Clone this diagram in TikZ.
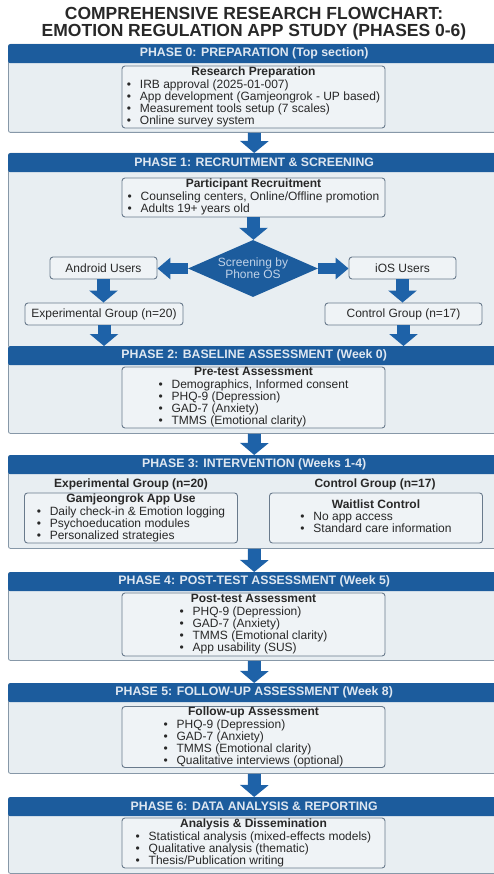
\documentclass[tikz,border=0pt]{standalone}
\usepackage{fontspec}
\setmainfont{Liberation Sans}
\usetikzlibrary{arrows.meta}
\usetikzlibrary{shapes.geometric}
\definecolor{hdrblue}{RGB}{28,92,157}
\definecolor{arrowblue}{RGB}{30,98,168}
\definecolor{hdrtext}{RGB}{222,231,241}
\definecolor{panelbg}{RGB}{232,238,242}
\definecolor{panelline}{RGB}{135,152,168}
\definecolor{boxbg}{RGB}{239,243,246}
\definecolor{boxline}{RGB}{105,122,140}
\definecolor{ink}{RGB}{40,40,40}
\definecolor{dtext}{RGB}{192,210,232}
\newcommand{\bul}{\makebox[13pt][l]{\textbullet}}
\newcommand{\boxhead}[1]{\multicolumn{1}{@{}c@{}}{\textbf{#1}}\\[1pt]}

\begin{document}
\begin{tikzpicture}[x=1pt,y=-1pt,
	panel/.style={draw=panelline, fill=panelbg, line width=0.8pt, rounded corners=2pt, anchor=north west, minimum width=492pt, inner sep=0pt},
	bar/.style={fill=hdrblue, text=hdrtext, rounded corners=2pt, anchor=north west, minimum width=492pt, minimum height=19pt, inner sep=0pt, font=\fontsize{12.3}{12}\selectfont\bfseries},
	infobox/.style={draw=boxline, fill=boxbg, line width=0.9pt, rounded corners=3pt, align=center, inner sep=0pt, text=ink, font=\fontsize{12}{11}\selectfont},
	userbox/.style={infobox, minimum height=22pt},
	fatdown/.style={draw=arrowblue, line width=13pt, -{Triangle[width=28pt,length=12pt]}},
	fatside/.style={draw=arrowblue, line width=11pt, -{Triangle[width=21pt,length=13pt]}}]
	\useasboundingbox (0,0) rectangle (494,874);
	\clip (0,0) rectangle (494,874);
	\node[font=\fontsize{17.5}{17}\selectfont\bfseries, align=center, text=ink] (T) at (254,23.5) {COMPREHENSIVE RESEARCH FLOWCHART:\\EMOTION REGULATION APP STUDY (PHASES 0-6)};

	\node[panel, minimum height=88pt] (P0) at (8,44) {};
	\node[bar] (H0) at (8,44) {PHASE 0: PREPARATION (Top section)};
	\node[infobox, minimum width=263pt, minimum height=62pt] (B0) at (253.5,97) {\begin{tabular}{@{}l@{}}\boxhead{Research Preparation}
		\bul IRB approval (2025-01-007)\\ \bul App development (Gamjeongrok - UP based)\\ \bul Measurement tools setup (7 scales)\\ \bul Online survey system\end{tabular}};

	\node[panel, minimum height=194pt] (P1) at (8,153) {};
	\node[bar] (H1) at (8,153) {PHASE 1: RECRUITMENT \& SCREENING};
	\node[infobox, minimum width=263pt, minimum height=39pt] (B1) at (253.5,197.5) {\begin{tabular}{@{}l@{}}\boxhead{Participant Recruitment}
		\bul Counseling centers, Online/Offline promotion\\ \bul Adults 19+ years old\end{tabular}};
	\node[diamond, aspect=2.3, fill=hdrblue, text=dtext, minimum width=130pt, minimum height=57pt, inner sep=0pt, align=center, font=\fontsize{12}{11}\selectfont] (D) at (253,268.5) {Screening by\\Phone OS};
	\node[userbox, minimum width=107pt] (A) at (103.5,268) {Android Users};
	\node[userbox, minimum width=107pt] (I) at (402.5,268) {iOS Users};
	\node[userbox, minimum width=158pt] (E) at (104,314) {Experimental Group (n=20)};
	\node[userbox, minimum width=157pt] (C) at (403.5,314) {Control Group (n=17)};
	\draw[fatdown] (B1.south) -- (B1.south |- D.north);
	\draw[fatside] (D.west) -- (D.west -| A.east);
	\draw[fatside] (D.east) -- (D.east -| I.west);
	\draw[fatdown] (A.south) -- (A.south |- E.north);
	\draw[fatdown] (I.south) -- (I.south |- C.north);

	\node[panel, minimum height=87pt] (P2) at (8,346) {};
	\node[bar] (H2) at (8,346) {PHASE 2: BASELINE ASSESSMENT (Week 0)};
	\draw[fatdown] (E.south) -- (E.south |- H2.north);
	\draw[fatdown] (C.south) -- (C.south |- H2.north);
	\node[infobox, minimum width=263pt, minimum height=61pt] (B2) at (253.5,397.5) {\begin{tabular}{@{}l@{}}\boxhead{Pre-test Assessment}
		\bul Demographics, Informed consent\\ \bul PHQ-9 (Depression)\\ \bul GAD-7 (Anxiety)\\ \bul TMMS (Emotional clarity)\end{tabular}};

	\node[panel, minimum height=93pt] (P3) at (8,455) {};
	\node[bar] (H3) at (8,455) {PHASE 3: INTERVENTION (Weeks 1-4)};
	\draw[fatdown] (P2.south) -- (H3.north);
	\node[font=\fontsize{12}{12}\selectfont\bfseries, text=ink] (GE) at (131,484) {Experimental Group (n=20)};
	\node[font=\fontsize{12}{12}\selectfont\bfseries, text=ink] (GC) at (375,484) {Control Group (n=17)};
	\node[infobox, minimum width=213pt, minimum height=50pt] (B3a) at (131,518) {\begin{tabular}{@{}l@{}}\boxhead{Gamjeongrok App Use}
		\bul Daily check-in \& Emotion logging\\ \bul Psychoeducation modules\\ \bul Personalized strategies\end{tabular}};
	\node[infobox, minimum width=213pt, minimum height=50pt] (B3b) at (376,518) {\begin{tabular}{@{}l@{}}\boxhead{Waitlist Control}
		\bul No app access\\ \bul Standard care information\end{tabular}};

	\node[panel, minimum height=88pt] (P4) at (8,572) {};
	\node[bar] (H4) at (8,572) {PHASE 4: POST-TEST ASSESSMENT (Week 5)};
	\draw[fatdown] (P3.south) -- (H4.north);
	\node[infobox, minimum width=263pt, minimum height=63pt] (B4) at (253.5,624.5) {\begin{tabular}{@{}l@{}}\boxhead{Post-test Assessment}
		\bul PHQ-9 (Depression)\\ \bul GAD-7 (Anxiety)\\ \bul TMMS (Emotional clarity)\\ \bul App usability (SUS)\end{tabular}};

	\node[panel, minimum height=90pt] (P5) at (8,683) {};
	\node[bar] (H5) at (8,683) {PHASE 5: FOLLOW-UP ASSESSMENT (Week 8)};
	\draw[fatdown] (P4.south) -- (H5.north);
	\node[infobox, minimum width=263pt, minimum height=60pt] (B5) at (253.5,737) {\begin{tabular}{@{}l@{}}\boxhead{Follow-up Assessment}
		\bul PHQ-9 (Depression)\\ \bul GAD-7 (Anxiety)\\ \bul TMMS (Emotional clarity)\\ \bul Qualitative interviews (optional)\end{tabular}};

	\node[panel, minimum height=76pt] (P6) at (8,797) {};
	\node[bar] (H6) at (8,797) {PHASE 6: DATA ANALYSIS \& REPORTING};
	\draw[fatdown] (P5.south) -- (H6.north);
	\node[infobox, minimum width=263pt, minimum height=50pt] (B6) at (253.5,843) {\begin{tabular}{@{}l@{}}\boxhead{Analysis \& Dissemination}
		\bul Statistical analysis (mixed-effects models)\\ \bul Qualitative analysis (thematic)\\ \bul Thesis/Publication writing\end{tabular}};

	\draw[fatdown] (P0.south) -- (H1.north);
\end{tikzpicture}
\end{document}
